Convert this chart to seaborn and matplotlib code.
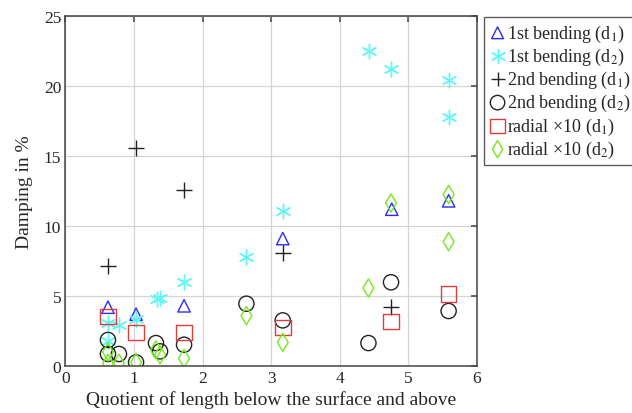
import matplotlib
matplotlib.use("Agg")
import matplotlib.pyplot as plt
import seaborn as sns
import pandas as pd

# data
bend1_d1_x = [0.62, 1.03, 1.73, 3.17, 4.76, 5.59]
bend1_d1_y = [4.2, 3.7, 4.3, 9.1, 11.2, 11.8]

bend1_d2_x = [4.43, 4.75, 5.59, 5.59, 3.17, 2.64, 1.73, 1.33, 1.38, 0.62, 0.78, 1.03, 0.62]
bend1_d2_y = [22.5, 21.2, 20.4, 17.8, 11.1, 7.8, 6.0, 4.8, 4.85, 3.1, 2.9, 3.35, 1.8]

bend2_d1_x = [0.62, 1.03, 1.73, 3.17, 4.75]
bend2_d1_y = [7.15, 15.6, 12.6, 8.05, 4.2]

bend2_d2_x = [0.62, 0.62, 0.78, 1.03, 1.32, 1.38, 1.73, 2.64, 3.17, 4.42, 4.75, 5.59]
bend2_d2_y = [1.86, 0.86, 0.86, 0.26, 1.64, 1.05, 1.52, 4.45, 3.26, 1.64, 5.98, 3.93]

radial_d1_x = [0.62, 1.03, 1.73, 3.17, 4.75, 5.59]
radial_d1_y = [3.55, 2.38, 2.38, 2.74, 3.17, 5.14]

radial_d2_x = [0.62, 0.62, 0.78, 1.03, 1.32, 1.38, 1.73, 2.64, 3.17, 4.42, 4.75, 5.59, 5.59]
radial_d2_y = [1.0, 0.2, 0.2, 0.26, 1.15, 0.8, 0.55, 3.6, 1.69, 5.57, 11.64, 12.25, 8.88]

labels = [
    "1st bending (d$_1$)",
    "1st bending (d$_2$)",
    "2nd bending (d$_1$)",
    "2nd bending (d$_2$)",
    "radial \u00d710 (d$_1$)",
    "radial \u00d710 (d$_2$)",
]

# (x, y, marker, colour, size, open?)
series = [
    (bend1_d1_x, bend1_d1_y, "^", "#2a2aff", 80, True),
    (bend1_d2_x, bend1_d2_y, (6, 2, 0), "#5ff6f6", 110, False),
    (bend2_d1_x, bend2_d1_y, "+", "#222222", 120, False),
    (bend2_d2_x, bend2_d2_y, "o", "#222222", 120, True),
    (radial_d1_x, radial_d1_y, "s", "#dd3c3c", 125, True),
    (radial_d2_x, radial_d2_y, "d", "#72ea1a", 85, True),
]

sns.set_theme(style="whitegrid")
plt.rcParams["font.family"] = ["Liberation Serif", "DejaVu Serif"]
plt.rcParams["mathtext.fontset"] = "stix"

fig = plt.figure(figsize=(6.32, 4.14), dpi=100)
ax = fig.add_axes([0.1036, 0.1135, 0.6507, 0.8455])

for (xs, ys, marker, color, size, hollow), lab in zip(series, labels):
    df = pd.DataFrame({"x": xs, "y": ys})
    if hollow:
        sns.scatterplot(data=df, x="x", y="y", ax=ax, marker=marker, s=size,
                        facecolor="none", edgecolor=color, color=color,
                        linewidth=1.0, label=lab)
    else:
        sns.scatterplot(data=df, x="x", y="y", ax=ax, marker=marker, s=size,
                        color=color, linewidth=1.0, label=lab)

ax.set_xlim(0, 6)
ax.set_ylim(0, 25)
ax.set_xticks(range(0, 7))
ax.set_yticks(range(0, 26, 5))
ax.grid(True, color="#d4d4d4", linewidth=0.9)
for sp in ax.spines.values():
    sp.set_color("#444444")
    sp.set_linewidth(1.1)
ax.tick_params(direction="in", length=4, color="#555555", top=True, right=True,
               labelsize=12.5, pad=3)
ax.set_xlabel("Quotient of length below the surface and above", fontsize=14,
              labelpad=3)
ax.set_ylabel("Damping in %", fontsize=14, labelpad=8)

leg = ax.legend(loc="upper left", bbox_to_anchor=(484 / 632, 1 - 18 / 414),
                bbox_transform=fig.transFigure, fontsize=13, frameon=True,
                fancybox=False, edgecolor="#333333", borderaxespad=0,
                handletextpad=0.1, handlelength=0.9, labelspacing=0.12,
                borderpad=0.3, markerscale=0.95)
leg.get_frame().set_linewidth(1.0)

fig.savefig("out.png", dpi=100)
